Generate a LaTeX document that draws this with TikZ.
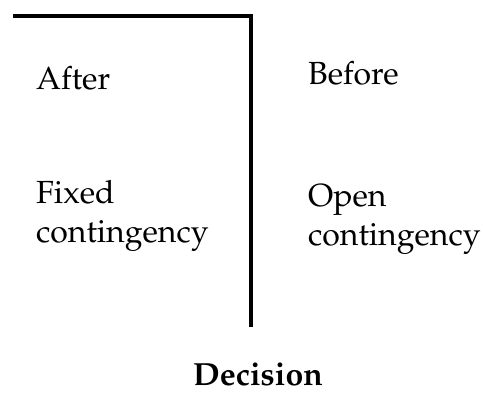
\documentclass[tikz,border=0pt]{standalone}
\usepackage[T1]{fontenc}
\usepackage{mathpazo}
\begin{document}
\begin{tikzpicture}[x=1pt,y=1pt,
  lbl/.style={inner sep=0pt,anchor=base west,align=left,font=\fontsize{32}{38.5}\selectfont},
  rule/.style={line width=3.5pt,line join=miter}]
\useasboundingbox (0,0) rectangle (483,-394);
\coordinate (tl) at (13,-16);
\coordinate (corner) at (251,-16);
\coordinate (bot) at (251,-327);
\draw[rule] (tl) -- (corner) -- (bot);
\node[lbl] (after) at (36,-89) {After};
\node[lbl] (before) at (308,-84) {Before};
\node[lbl] (fixed) at (36,-242) {Fixed\\contingency};
\node[lbl] (open) at (308,-245) {Open\\contingency};
\node[inner sep=0pt,anchor=base,font=\fontsize{32}{38}\selectfont\bfseries] (decision) at (258,-385) {Decision};
\end{tikzpicture}
\end{document}
